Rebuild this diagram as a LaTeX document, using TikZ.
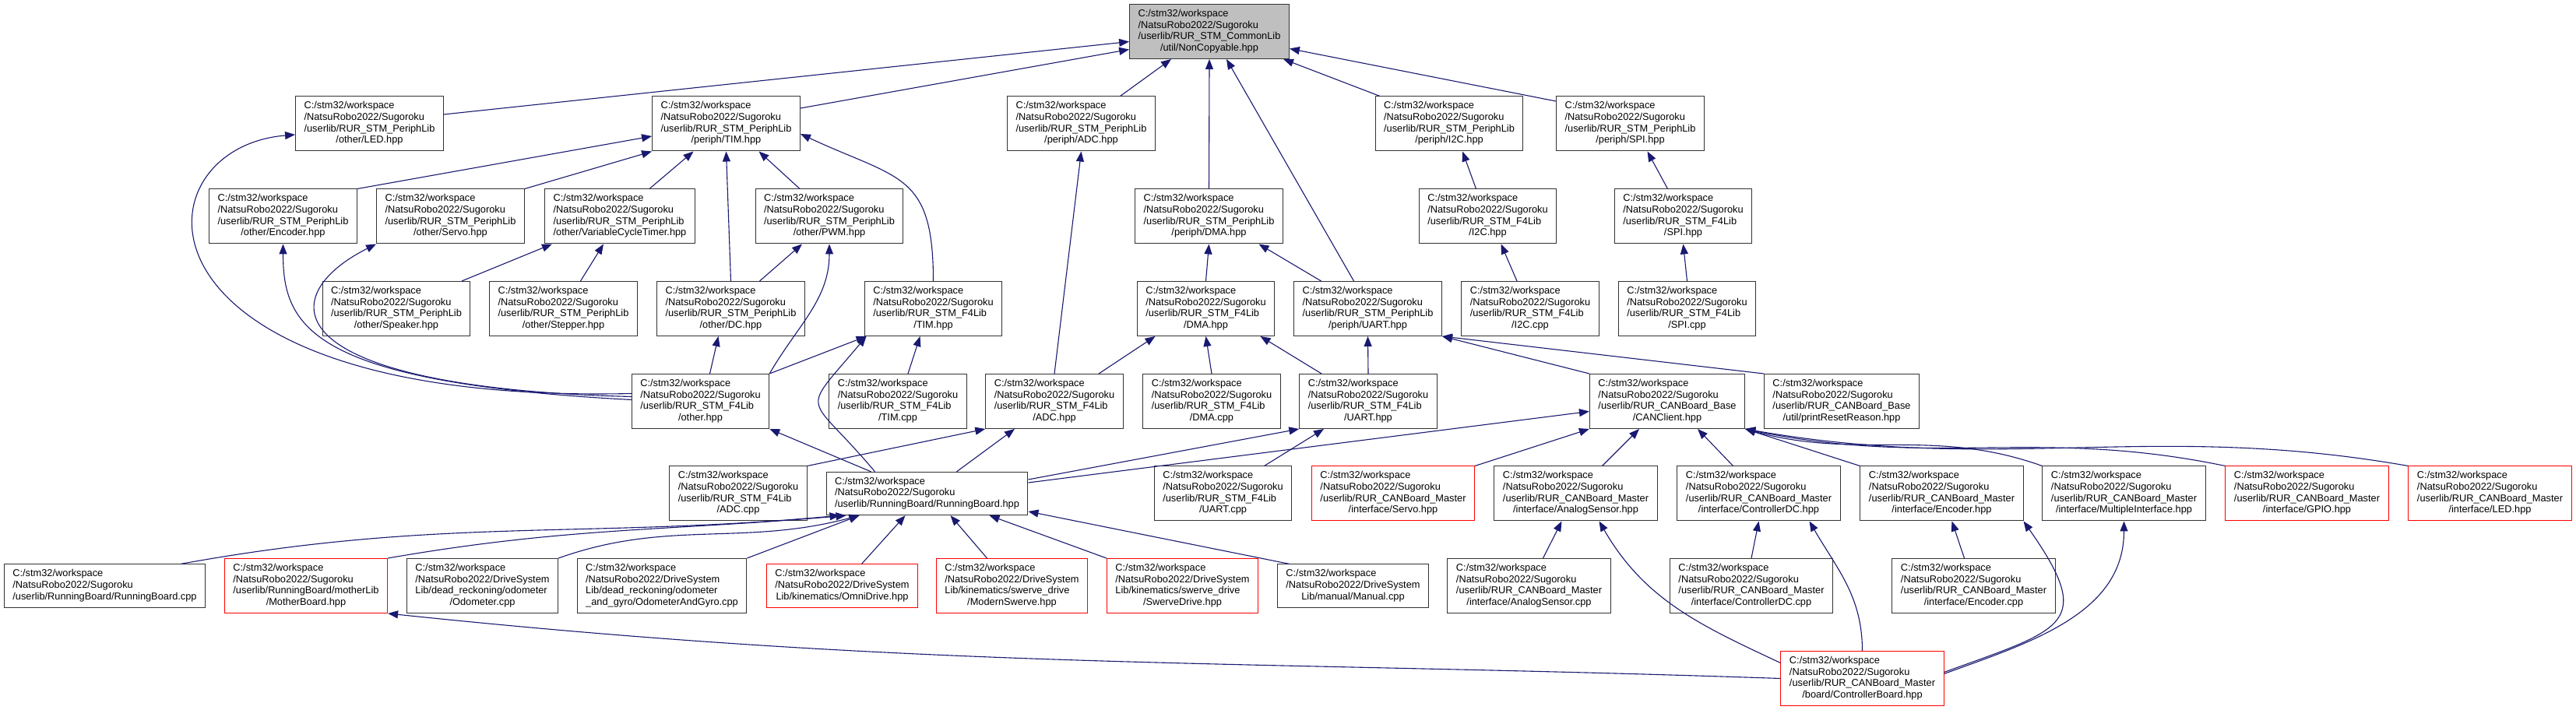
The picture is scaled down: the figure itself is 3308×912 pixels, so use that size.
\documentclass[tikz,border=0pt]{standalone}
\usepackage{fontspec}
\setmainfont{Liberation Sans}
\usepackage{xcolor}
\usepackage{tikz}
\usetikzlibrary{arrows.meta}

\definecolor{edgeblue}{HTML}{191970}
\definecolor{truncred}{HTML}{FF0000}
% all lines left, the last one centered
\newcommand{\incpath}[2]{\begin{tabular}{@{}l@{}}#1\\\multicolumn{1}{@{}c@{}}{#2}\end{tabular}}

\begin{document}
\begin{tikzpicture}[
  x=1pt, y=1pt, >={Triangle[length=13pt, width=10pt]},
  srcfile/.style={draw=black!80, line width=1pt, fill=white, inner xsep=11pt,
                  inner ysep=5.6pt, font=\fontsize{12.8pt}{14.7pt}\selectfont},
  trunc/.style={srcfile, draw=truncred},
  cur/.style={srcfile, fill=black!25},
  inc/.style={->, color=edgeblue, line width=1.1pt}]
  \useasboundingbox (0,0) rectangle (3308,912);

  % row 0
  \node[cur] (noncopy) at (1553,871.5) {\incpath{C:/stm32/workspace\\/NatsuRobo2022/Sugoroku\\/userlib/RUR\_STM\_CommonLib}{/util/NonCopyable.hpp}};
  % row 1
  \node[srcfile] (ledp) at (474.5,753) {\incpath{C:/stm32/workspace\\/NatsuRobo2022/Sugoroku\\/userlib/RUR\_STM\_PeriphLib}{/other/LED.hpp}};
  \node[srcfile] (timp) at (932.5,753) {\incpath{C:/stm32/workspace\\/NatsuRobo2022/Sugoroku\\/userlib/RUR\_STM\_PeriphLib}{/periph/TIM.hpp}};
  \node[srcfile] (adcp) at (1388.5,753) {\incpath{C:/stm32/workspace\\/NatsuRobo2022/Sugoroku\\/userlib/RUR\_STM\_PeriphLib}{/periph/ADC.hpp}};
  \node[srcfile] (i2cp) at (1861,753) {\incpath{C:/stm32/workspace\\/NatsuRobo2022/Sugoroku\\/userlib/RUR\_STM\_PeriphLib}{/periph/I2C.hpp}};
  \node[srcfile] (spip) at (2093.5,753) {\incpath{C:/stm32/workspace\\/NatsuRobo2022/Sugoroku\\/userlib/RUR\_STM\_PeriphLib}{/periph/SPI.hpp}};
  % row 2
  \node[srcfile] (encp) at (363.5,634) {\incpath{C:/stm32/workspace\\/NatsuRobo2022/Sugoroku\\/userlib/RUR\_STM\_PeriphLib}{/other/Encoder.hpp}};
  \node[srcfile] (servop) at (578.5,634) {\incpath{C:/stm32/workspace\\/NatsuRobo2022/Sugoroku\\/userlib/RUR\_STM\_PeriphLib}{/other/Servo.hpp}};
  \node[srcfile] (vctp) at (796,634) {\incpath{C:/stm32/workspace\\/NatsuRobo2022/Sugoroku\\/userlib/RUR\_STM\_PeriphLib}{/other/VariableCycleTimer.hpp}};
  \node[srcfile] (pwmp) at (1065,634) {\incpath{C:/stm32/workspace\\/NatsuRobo2022/Sugoroku\\/userlib/RUR\_STM\_PeriphLib}{/other/PWM.hpp}};
  \node[srcfile] (dmap) at (1552.5,634) {\incpath{C:/stm32/workspace\\/NatsuRobo2022/Sugoroku\\/userlib/RUR\_STM\_PeriphLib}{/periph/DMA.hpp}};
  \node[srcfile] (i2cf) at (1910.5,634) {\incpath{C:/stm32/workspace\\/NatsuRobo2022/Sugoroku\\/userlib/RUR\_STM\_F4Lib}{/I2C.hpp}};
  \node[srcfile] (spif) at (2161.5,634) {\incpath{C:/stm32/workspace\\/NatsuRobo2022/Sugoroku\\/userlib/RUR\_STM\_F4Lib}{/SPI.hpp}};
  % row 3
  \node[srcfile] (speakp) at (509,515.5) {\incpath{C:/stm32/workspace\\/NatsuRobo2022/Sugoroku\\/userlib/RUR\_STM\_PeriphLib}{/other/Speaker.hpp}};
  \node[srcfile] (stepp) at (723.5,515.5) {\incpath{C:/stm32/workspace\\/NatsuRobo2022/Sugoroku\\/userlib/RUR\_STM\_PeriphLib}{/other/Stepper.hpp}};
  \node[srcfile] (dcp) at (938.5,515.5) {\incpath{C:/stm32/workspace\\/NatsuRobo2022/Sugoroku\\/userlib/RUR\_STM\_PeriphLib}{/other/DC.hpp}};
  \node[srcfile] (timf) at (1198.5,515.5) {\incpath{C:/stm32/workspace\\/NatsuRobo2022/Sugoroku\\/userlib/RUR\_STM\_F4Lib}{/TIM.hpp}};
  \node[srcfile] (dmaf) at (1548.5,515.5) {\incpath{C:/stm32/workspace\\/NatsuRobo2022/Sugoroku\\/userlib/RUR\_STM\_F4Lib}{/DMA.hpp}};
  \node[srcfile] (uartp) at (1756.5,515.5) {\incpath{C:/stm32/workspace\\/NatsuRobo2022/Sugoroku\\/userlib/RUR\_STM\_PeriphLib}{/periph/UART.hpp}};
  \node[srcfile] (i2ccpp) at (1965,515.5) {\incpath{C:/stm32/workspace\\/NatsuRobo2022/Sugoroku\\/userlib/RUR\_STM\_F4Lib}{/I2C.cpp}};
  \node[srcfile] (spicpp) at (2166.5,515.5) {\incpath{C:/stm32/workspace\\/NatsuRobo2022/Sugoroku\\/userlib/RUR\_STM\_F4Lib}{/SPI.cpp}};
  % row 4
  \node[srcfile] (otherf) at (899.5,396.5) {\incpath{C:/stm32/workspace\\/NatsuRobo2022/Sugoroku\\/userlib/RUR\_STM\_F4Lib}{/other.hpp}};
  \node[srcfile] (timcpp) at (1153,396.5) {\incpath{C:/stm32/workspace\\/NatsuRobo2022/Sugoroku\\/userlib/RUR\_STM\_F4Lib}{/TIM.cpp}};
  \node[srcfile] (adcf) at (1354,396.5) {\incpath{C:/stm32/workspace\\/NatsuRobo2022/Sugoroku\\/userlib/RUR\_STM\_F4Lib}{/ADC.hpp}};
  \node[srcfile] (dmacpp) at (1556,396.5) {\incpath{C:/stm32/workspace\\/NatsuRobo2022/Sugoroku\\/userlib/RUR\_STM\_F4Lib}{/DMA.cpp}};
  \node[srcfile] (uartf) at (1757,396.5) {\incpath{C:/stm32/workspace\\/NatsuRobo2022/Sugoroku\\/userlib/RUR\_STM\_F4Lib}{/UART.hpp}};
  \node[srcfile] (canc) at (2141,396.5) {\incpath{C:/stm32/workspace\\/NatsuRobo2022/Sugoroku\\/userlib/RUR\_CANBoard\_Base}{/CANClient.hpp}};
  \node[srcfile] (reset) at (2365,396.5) {\incpath{C:/stm32/workspace\\/NatsuRobo2022/Sugoroku\\/userlib/RUR\_CANBoard\_Base}{/util/printResetReason.hpp}};
  % row 5
  \node[srcfile] (adccpp) at (948,278) {\incpath{C:/stm32/workspace\\/NatsuRobo2022/Sugoroku\\/userlib/RUR\_STM\_F4Lib}{/ADC.cpp}};
  \node[srcfile] (rbh) at (1190.5,278) {\incpath{C:/stm32/workspace\\/NatsuRobo2022/Sugoroku}{/userlib/RunningBoard/RunningBoard.hpp}};
  \node[srcfile] (uartcpp) at (1570.5,278) {\incpath{C:/stm32/workspace\\/NatsuRobo2022/Sugoroku\\/userlib/RUR\_STM\_F4Lib}{/UART.cpp}};
  \node[trunc] (servoc) at (1789,278) {\incpath{C:/stm32/workspace\\/NatsuRobo2022/Sugoroku\\/userlib/RUR\_CANBoard\_Master}{/interface/Servo.hpp}};
  \node[srcfile] (anac) at (2023.5,278) {\incpath{C:/stm32/workspace\\/NatsuRobo2022/Sugoroku\\/userlib/RUR\_CANBoard\_Master}{/interface/AnalogSensor.hpp}};
  \node[srcfile] (cdc) at (2258.5,278) {\incpath{C:/stm32/workspace\\/NatsuRobo2022/Sugoroku\\/userlib/RUR\_CANBoard\_Master}{/interface/ControllerDC.hpp}};
  \node[srcfile] (encc) at (2493.5,278) {\incpath{C:/stm32/workspace\\/NatsuRobo2022/Sugoroku\\/userlib/RUR\_CANBoard\_Master}{/interface/Encoder.hpp}};
  \node[srcfile] (multi) at (2727.5,278) {\incpath{C:/stm32/workspace\\/NatsuRobo2022/Sugoroku\\/userlib/RUR\_CANBoard\_Master}{/interface/MultipleInterface.hpp}};
  \node[trunc] (gpio) at (2962.5,278) {\incpath{C:/stm32/workspace\\/NatsuRobo2022/Sugoroku\\/userlib/RUR\_CANBoard\_Master}{/interface/GPIO.hpp}};
  \node[trunc] (ledc) at (3197.5,278) {\incpath{C:/stm32/workspace\\/NatsuRobo2022/Sugoroku\\/userlib/RUR\_CANBoard\_Master}{/interface/LED.hpp}};
  % row 6
  \node[srcfile] (rbcpp) at (134.5,159.5) {\incpath{C:/stm32/workspace\\/NatsuRobo2022/Sugoroku}{/userlib/RunningBoard/RunningBoard.cpp}};
  \node[trunc] (motherb) at (393,159.5) {\incpath{C:/stm32/workspace\\/NatsuRobo2022/Sugoroku\\/userlib/RunningBoard/motherLib}{/MotherBoard.hpp}};
  \node[srcfile] (odo) at (619.5,159.5) {\incpath{C:/stm32/workspace\\/NatsuRobo2022/DriveSystem\\Lib/dead\_reckoning/odometer}{/Odometer.cpp}};
  \node[srcfile] (odog) at (850,159.5) {\incpath{C:/stm32/workspace\\/NatsuRobo2022/DriveSystem\\Lib/dead\_reckoning/odometer}{\_and\_gyro/OdometerAndGyro.cpp}};
  \node[trunc] (omni) at (1081.5,159.5) {\incpath{C:/stm32/workspace\\/NatsuRobo2022/DriveSystem}{Lib/kinematics/OmniDrive.hpp}};
  \node[trunc] (modern) at (1299.5,159.5) {\incpath{C:/stm32/workspace\\/NatsuRobo2022/DriveSystem\\Lib/kinematics/swerve\_drive}{/ModernSwerve.hpp}};
  \node[trunc] (swerve) at (1518.5,159.5) {\incpath{C:/stm32/workspace\\/NatsuRobo2022/DriveSystem\\Lib/kinematics/swerve\_drive}{/SwerveDrive.hpp}};
  \node[srcfile] (manual) at (1737.5,159.5) {\incpath{C:/stm32/workspace\\/NatsuRobo2022/DriveSystem}{Lib/manual/Manual.cpp}};
  \node[srcfile] (anacpp) at (1963.5,159.5) {\incpath{C:/stm32/workspace\\/NatsuRobo2022/Sugoroku\\/userlib/RUR\_CANBoard\_Master}{/interface/AnalogSensor.cpp}};
  \node[srcfile] (cdccpp) at (2249,159.5) {\incpath{C:/stm32/workspace\\/NatsuRobo2022/Sugoroku\\/userlib/RUR\_CANBoard\_Master}{/interface/ControllerDC.cpp}};
  \node[srcfile] (enccpp) at (2534.5,159.5) {\incpath{C:/stm32/workspace\\/NatsuRobo2022/Sugoroku\\/userlib/RUR\_CANBoard\_Master}{/interface/Encoder.cpp}};
  % row 7
  \node[trunc] (ctrlb) at (2391.5,40.5) {\incpath{C:/stm32/workspace\\/NatsuRobo2022/Sugoroku\\/userlib/RUR\_CANBoard\_Master}{/board/ControllerBoard.hpp}};

  % into NonCopyable
  \draw[inc] ([yshift=12pt]ledp.east) -- ([yshift=-13pt]noncopy.west);
  \draw[inc] ([yshift=20pt]timp.east) -- ([yshift=-23pt]noncopy.west);
  \draw[inc] ([xshift=50pt]adcp.north) -- ([xshift=-49pt]noncopy.south);
  \draw[inc] (dmap.north) -- (noncopy.south);
  \draw[inc] ([xshift=-18pt]uartp.north) -- ([xshift=22pt]noncopy.south);
  \draw[inc] ([xshift=-89pt]i2cp.north) -- ([xshift=95pt]noncopy.south);
  \draw[inc] ([yshift=29pt]spip.west) -- ([yshift=-22pt]noncopy.east);
  % PeriphLib
  \draw[inc] (encp.north east) -- ([yshift=-16pt]timp.west);
  \draw[inc] (servop.north east) -- (timp.south west);
  \draw[inc] ([xshift=38pt]vctp.north) -- ([xshift=-42pt]timp.south);
  \draw[inc] (dcp.north) -- (timp.south);
  \draw[inc] ([xshift=-38pt]pwmp.north) -- ([xshift=42pt]timp.south);
  \draw[inc] (timf.north) to[out=90, in=-25, looseness=1.4] ([yshift=-13pt]timp.east);
  \draw[inc] ([xshift=37pt]dcp.north) -- ([xshift=-35pt]pwmp.south);
  \draw[inc] ([xshift=84pt]speakp.north) -- ([xshift=-87pt]vctp.south);
  \draw[inc] ([xshift=22pt]stepp.north) -- ([xshift=-21pt]vctp.south);
  \draw[inc] ([xshift=-15pt]i2cf.north) -- ([xshift=17pt]i2cp.south);
  \draw[inc] ([xshift=-20pt]spif.north) -- ([xshift=22pt]spip.south);
  \draw[inc] ([xshift=-17pt]i2ccpp.north) -- ([xshift=17pt]i2cf.south);
  \draw[inc] (spicpp.north) -- (spif.south);
  \draw[inc] ([xshift=-60pt]uartp.north) -- ([xshift=64pt]dmap.south);
  \draw[inc] (dmaf.north) -- (dmap.south);
  \draw[inc] (uartf.north) -- (uartp.south);
  \draw[inc] (canc.north west) -- (uartp.south east);
  \draw[inc] (reset.north west) -- (uartp.south east);
  % F4Lib
  \draw[inc] ([xshift=-60pt]uartf.north) -- ([xshift=70pt]dmaf.south);
  \draw[inc] ([xshift=57pt]adcf.north) -- ([xshift=-65pt]dmaf.south);
  \draw[inc] (dmacpp.north) -- (dmaf.south);
  \draw[inc] (adcf.north) -- (adcp.south);
  \draw[inc] ([xshift=13pt]timcpp.north) -- ([xshift=-17pt]timf.south);
  \draw[inc] (otherf.north east) -- ([xshift=-86pt]timf.south);
  \draw[inc] ([xshift=-67pt]rbh.north) to[out=130, in=230, looseness=2] ([xshift=-86pt]timf.south);
  \draw[inc] ([xshift=12pt]otherf.north) -- ([xshift=-16pt]dcp.south);
  \draw[inc] (otherf.north east) to[out=60, in=-90] (pwmp.south);
  \draw[inc] ([yshift=10pt]otherf.west) .. controls +(-661,-15) and +(-209,-17) .. ([yshift=-14pt]ledp.west);
  \draw[inc] ([yshift=2pt]otherf.west) .. controls +(-411,22) and +(0,-107) .. (encp.south);
  \draw[inc] ([yshift=6pt]otherf.west) .. controls +(-461,12) and +(-133,-67) .. (servop.south west);
  % RunningBoard
  \draw[inc] ([xshift=-72pt]rbh.north) -- (otherf.south east);
  \draw[inc] (adccpp.north east) -- (adcf.south west);
  \draw[inc] ([xshift=38pt]rbh.north) -- ([xshift=-51pt]adcf.south);
  \draw[inc] ([yshift=18pt]rbh.east) -- (uartf.south west);
  \draw[inc] ([yshift=14pt]rbh.east) -- ([yshift=-13pt]canc.west);
  \draw[inc] ([xshift=53pt]uartcpp.north) -- ([xshift=-57pt]uartf.south);
  \draw[inc] ([xshift=98pt]rbcpp.north) .. controls +(330,60) and +(-330,-30) .. ([xshift=-112pt]rbh.south);
  \draw[inc] (motherb.north east) .. controls +(230,40) and +(-230,-20) .. ([xshift=-104pt]rbh.south);
  \draw[inc] (odo.north east) .. controls +(140,50) and +(-150,-40) .. ([xshift=-87pt]rbh.south);
  \draw[inc] (odog.north east) -- ([xshift=-87pt]rbh.south);
  \draw[inc] ([xshift=25pt]omni.north) -- ([xshift=-28pt]rbh.south);
  \draw[inc] ([xshift=-32pt]modern.north) -- ([xshift=30pt]rbh.south);
  \draw[inc] (swerve.north west) -- ([xshift=80pt]rbh.south);
  \draw[inc] ([xshift=-82pt]manual.north) -- ([yshift=-23pt]rbh.east);
  % CANBoard
  \draw[inc] (servoc.north east) -- (canc.south west);
  \draw[inc] ([xshift=34pt]anac.north) -- ([xshift=-36pt]canc.south);
  \draw[inc] ([xshift=-33pt]cdc.north) -- ([xshift=39pt]canc.south);
  \draw[inc] (encc.north west) -- (canc.south east);
  \draw[inc] (multi.north west) .. controls +(-140,50) and +(145,-40) .. (canc.south east);
  \draw[inc] (gpio.north west) .. controls +(-240,50) and +(240,-50) .. (canc.south east);
  \draw[inc] (ledc.north west) .. controls +(-330,58) and +(330,-58) .. (canc.south east);
  \draw[inc] ([xshift=18pt]anacpp.north) -- ([xshift=-18pt]anac.south);
  \draw[inc] (cdccpp.north) -- (cdc.south);
  \draw[inc] ([xshift=-12pt]enccpp.north) -- ([xshift=13pt]encc.south);
  \draw[inc] ([yshift=20pt]ctrlb.west) to[out=155, in=-60] ([xshift=30pt]anac.south);
  \draw[inc] (ctrlb.north) to[out=90, in=-60] ([xshift=65pt]cdc.south);
  \draw[inc] ([yshift=8pt]ctrlb.east) to[out=20, in=-55, looseness=1.9] (encc.south east);
  \draw[inc] ([yshift=6pt]ctrlb.east) to[out=20, in=-90] (multi.south);
  \draw[inc] (ctrlb.west) .. controls +(-700,24) and +(696,-73) .. (motherb.south east);
\end{tikzpicture}
\end{document}
